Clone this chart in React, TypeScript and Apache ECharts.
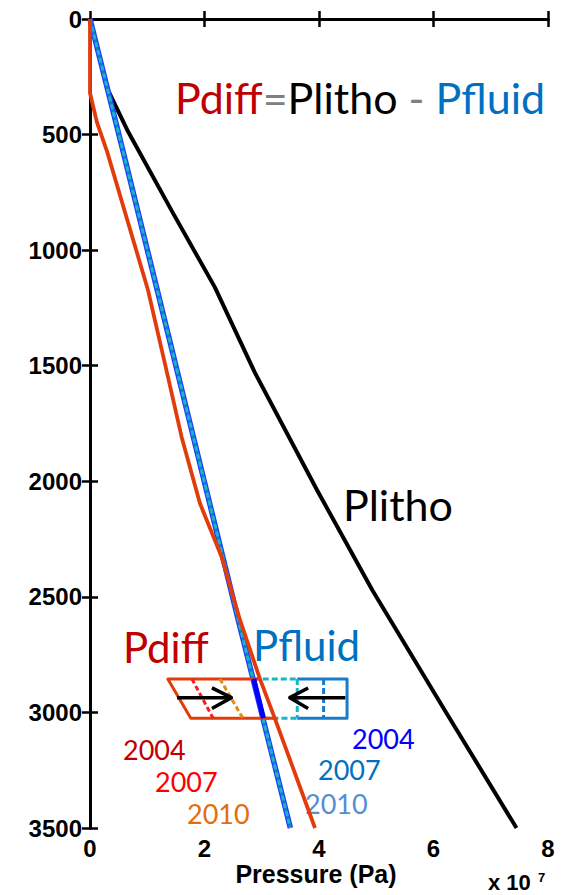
import React, { useEffect, useRef } from "react";
import * as echarts from "echarts";

// Pressure values are in units of 1e7 Pa, depth in m
const plithoX = [0, 0.3, 0.65, 1.45, 2.18, 2.88, 3.97, 4.93, 6.22, 7.45];
const plithoDepth = [0, 300, 480, 840, 1160, 1530, 2040, 2470, 3000, 3500];

const pfluidX = [0, 0.58, 1.52, 2.59, 3.5];
const pfluidDepth = [0, 575, 1520, 2600, 3500];

const pdiffX = [0, 0, 0.12, 0.3, 1.01, 1.35, 1.6, 1.92, 2.3, 2.62, 2.97, 3.22, 3.93];
const pdiffDepth = [0, 320, 446, 575, 1170, 1535, 1808, 2095, 2328, 2600, 2856, 3020, 3500];

// reservoir interval (depths)
const resTop = 2855;
const resBottom = 3025;

// Pdiff parallelogram (2004 outline) and yearly dashed lines
const pdiffBoxX = [2.97, 1.36, 1.76, 3.23];
const pdiffBoxDepth = [resTop, resTop, resBottom, resBottom];
const pdiff2007X = [1.78, 2.15];
const pdiff2010X = [2.27, 2.67];

// Pfluid box
const pfluid2004SegX = [2.86, 3.03];
const pfluidBoxX = [3.62, 4.49, 4.49, 3.62];
const pfluidBoxDepth = [resTop, resTop, resBottom, resBottom];
const pfluidCyanTopX = [2.86, 3.62];
const pfluidCyanBottomX = [3.03, 3.62];
const pfluid2010X = [3.62, 3.62];
const pfluid2007X = [4.08, 4.08];

// arrows
const arrowDepth = 2936;
const arrowRightShaftX = [1.52, 2.47];
const arrowRightHeadX = [2.13, 2.47, 2.13];
const arrowLeftShaftX = [4.46, 3.49];
const arrowLeftHeadX = [3.81, 3.49, 3.81];
const arrowHeadDepth = [2894, 2936, 2983];

const xTicks = { min: 0, max: 8, interval: 2 };
const yTicks = { min: 0, max: 3500, interval: 500 };

const zip = (xs: number[], ys: number[]) => xs.map((x, i) => [x, ys[i]]);

function line(name: string, data: number[][], color: string, width: number, type: any = "solid", z = 3) {
  return {
    name,
    type: "line",
    data,
    symbol: "none",
    z,
    lineStyle: { color, width, type, cap: "butt", join: "round" },
    silent: true,
  };
}

export default function App() {
  const ref = useRef<HTMLDivElement>(null);
  useEffect(() => {
    if (!ref.current) return;
    const chart = echarts.init(ref.current, null, { renderer: "svg" });
    const axisLine = { show: true, lineStyle: { color: "#000", width: 3 } };
    const axisTick = { show: true, inside: true, length: 8, lineStyle: { color: "#000", width: 2.5 } };
    const label = {
      color: "#000",
      fontSize: 24,
      fontWeight: "bold",
      fontFamily: "Liberation Sans, Arial, sans-serif",
      formatter: (v: number) => String(v),
    };
    const latoFont = "Lato, 'Open Sans', sans-serif";
    const txt = (text: string, x: number, y: number, color: string, size: number) => ({
      type: "text",
      x,
      y,
      silent: true,
      style: { text, fill: color, fontSize: size, fontFamily: latoFont, align: "left", verticalAlign: "middle" },
    });
    const option: any = {
      animation: false,
      grid: { left: 90, right: 22, top: 19, bottom: 67 },
      xAxis: [
        {
          type: "value",
          position: "bottom",
          ...xTicks,
          axisLine,
          axisTick,
          splitLine: { show: false },
          axisLabel: { ...label, margin: 8 },
        },
        {
          type: "value",
          position: "top",
          ...xTicks,
          axisLine,
          axisTick,
          splitLine: { show: false },
          axisLabel: { show: false },
        },
      ],
      yAxis: [
        {
          type: "value",
          position: "left",
          inverse: true,
          ...yTicks,
          axisLine,
          axisTick,
          splitLine: { show: false },
          axisLabel: { ...label, margin: 8 },
        },
        {
          type: "value",
          position: "right",
          inverse: true,
          ...yTicks,
          axisLine,
          axisTick,
          splitLine: { show: false },
          axisLabel: { show: false },
        },
      ],
      series: [
        line("Plitho", zip(plithoX, plithoDepth), "#000000", 4),
        line("Pfluid 2004", zip(pfluidX, pfluidDepth), "#1f3cff", 5.5),
        line("Pfluid 2007", zip(pfluidX, pfluidDepth), "#1a78c8", 3),
        line("Pfluid 2010", zip(pfluidX, pfluidDepth), "#17b5c9", 3, [5, 3]),
        line("Pdiff", zip(pdiffX, pdiffDepth), "#e23c0c", 3.8, "solid", 4),
        line("Pfluid box", zip(pfluidBoxX, pfluidBoxDepth), "#1a7cc8", 3),
        line("Pfluid box top 2010", zip(pfluidCyanTopX, [resTop, resTop]), "#17b5c9", 3, [6, 3]),
        line("Pfluid box bottom 2010", zip(pfluidCyanBottomX, [resBottom, resBottom]), "#17b5c9", 3, [6, 3]),
        line("Pfluid 2010 level", zip(pfluid2010X, [resTop, resBottom]), "#17b5c9", 3, [6, 3]),
        line("Pfluid 2007 level", zip(pfluid2007X, [resTop, resBottom]), "#1a78c8", 3, [6, 3]),
        line("Pdiff box", zip(pdiffBoxX, pdiffBoxDepth), "#e23c0c", 3, "solid", 5),
        line("Pdiff 2007", zip(pdiff2007X, [resTop, resBottom]), "#ff1a1a", 3, [5, 3], 5),
        line("Pdiff 2010", zip(pdiff2010X, [resTop, resBottom]), "#e38a12", 3, [5, 3], 5),
        line("Pfluid 2004 reservoir", zip(pfluid2004SegX, [resTop, resBottom]), "#0000ff", 5, "solid", 6),
        line("arrow right", zip(arrowRightShaftX, [arrowDepth, arrowDepth]), "#000000", 3.5, "solid", 7),
        line("arrow right head", zip(arrowRightHeadX, arrowHeadDepth), "#000000", 3.5, "solid", 7),
        line("arrow left", zip(arrowLeftShaftX, [arrowDepth, arrowDepth]), "#000000", 3.5, "solid", 7),
        line("arrow left head", zip(arrowLeftHeadX, arrowHeadDepth), "#000000", 3.5, "solid", 7),
      ],
      graphic: [
        {
          type: "text",
          x: 175,
          y: 97,
          silent: true,
          style: {
            text: "{a|Pdiff}{b|=}{c|Plitho}{b| - }{d|Pfluid}",
            fontSize: 43,
            fontFamily: latoFont,
            align: "left",
            verticalAlign: "middle",
            rich: {
              a: { fill: "#c00000", fontSize: 43, fontFamily: latoFont },
              b: { fill: "#808080", fontSize: 43, fontFamily: latoFont },
              c: { fill: "#000000", fontSize: 43, fontFamily: latoFont },
              d: { fill: "#0070c0", fontSize: 43, fontFamily: latoFont },
            },
          },
        },
        txt("Plitho", 343, 504, "#000000", 43),
        txt("Pdiff", 123, 647, "#c00000", 42),
        txt("Pfluid", 253, 645, "#0070c0", 42),
        txt("2004", 123, 749, "#c00000", 27),
        txt("2007", 155, 781, "#ff0000", 27),
        txt("2010", 187, 813, "#e46c0a", 27),
        txt("2004", 352, 738, "#0000ff", 27),
        txt("2007", 318, 769, "#0070c0", 27),
        txt("2010", 305, 803, "#558ed5", 27),
        {
          type: "text",
          x: 316,
          y: 874,
          silent: true,
          style: { text: "Pressure (Pa)", fill: "#000", fontSize: 25, fontWeight: "bold", fontFamily: "Liberation Sans, Arial, sans-serif", align: "center", verticalAlign: "middle" },
        },
        {
          type: "text",
          x: 488,
          y: 882,
          silent: true,
          style: { text: "x 10", fill: "#000", fontSize: 22, fontWeight: "bold", fontFamily: "Liberation Sans, Arial, sans-serif", align: "left", verticalAlign: "middle" },
        },
        {
          type: "text",
          x: 538,
          y: 877,
          silent: true,
          style: { text: "7", fill: "#000", fontSize: 13, fontWeight: "bold", fontFamily: "Liberation Sans, Arial, sans-serif", align: "left", verticalAlign: "middle" },
        },
      ],
    };
    chart.setOption(option);
    return () => chart.dispose();
  }, []);
  return <div ref={ref} style={{ position: "fixed", left: 0, top: 0, width: 570, height: 895, background: "#fff" }} />;
}
